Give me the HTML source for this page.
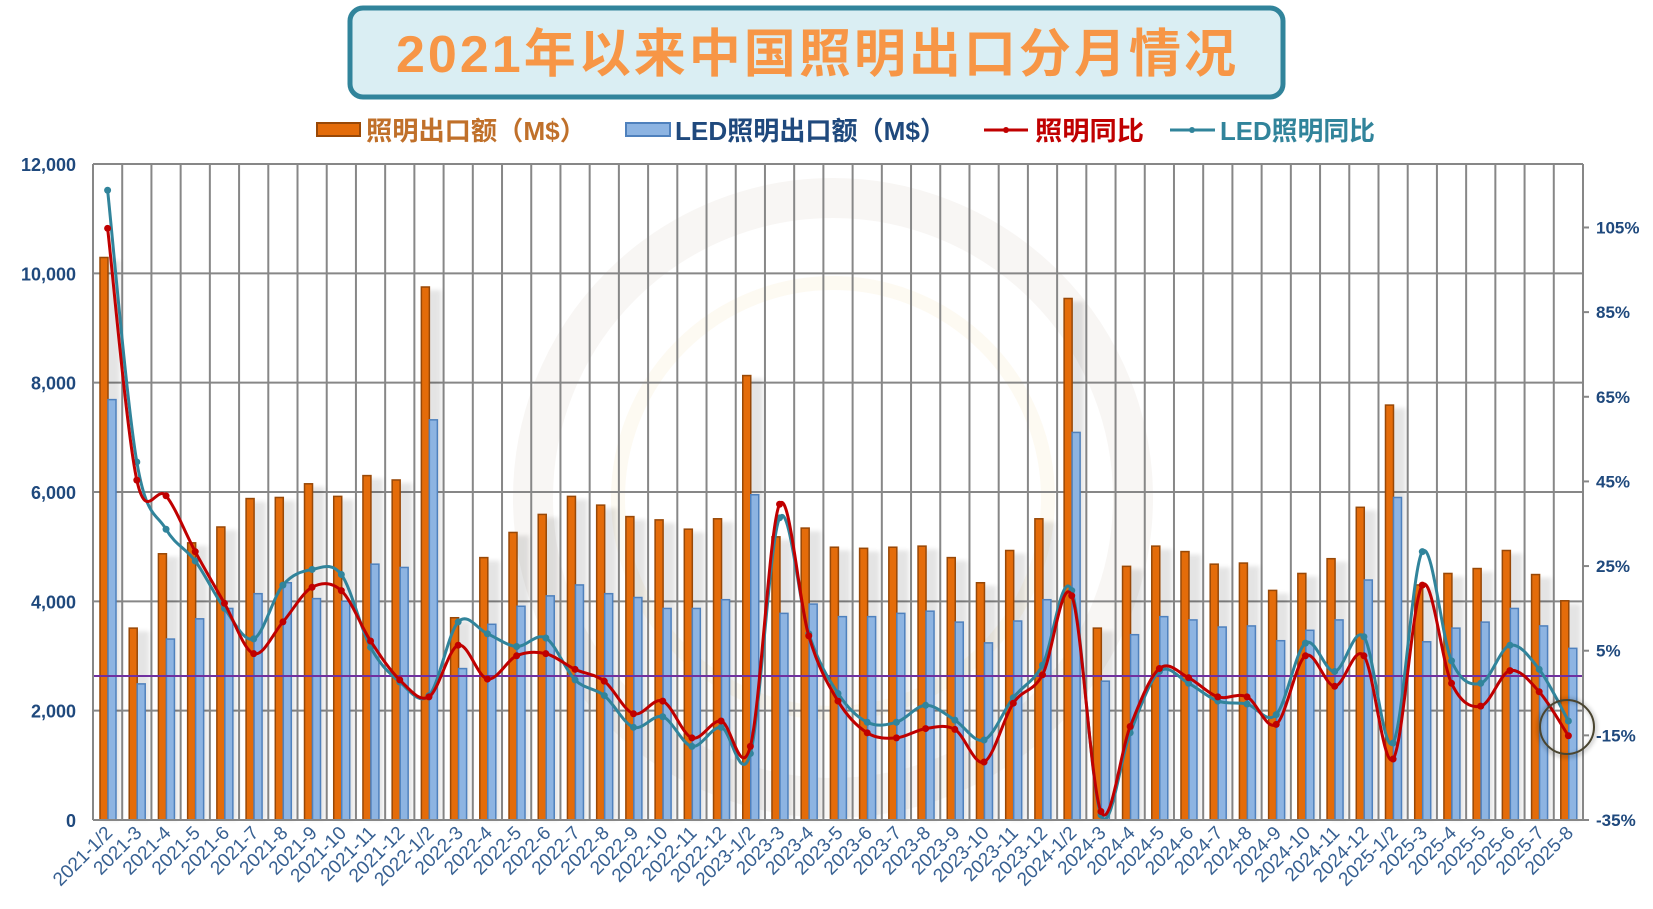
<!DOCTYPE html>
<html><head><meta charset="utf-8">
<style>
html,body{margin:0;padding:0;background:#fff;}
svg{display:block;}
text{font-family:"Liberation Sans","Noto Sans CJK SC",sans-serif;}
</style></head>
<body>
<svg id="c" width="1653" height="909" viewBox="0 0 1653 909" xmlns="http://www.w3.org/2000/svg">
<defs>
<filter id="sh" x="-50%" y="-10%" width="200%" height="120%"><feGaussianBlur stdDeviation="2"/></filter>
</defs>
<rect x="0" y="0" width="1653" height="909" fill="#fff"/>
<circle cx="833" cy="498" r="300" fill="none" stroke="#f3f0ec" stroke-width="40" opacity="0.6"/>
<circle cx="833" cy="498" r="215" fill="none" stroke="#fbf6ea" stroke-width="14" opacity="0.6"/>
<rect x="350" y="8" width="933" height="89" rx="13" ry="13" fill="#DAEEF3" stroke="#31849B" stroke-width="5"/>
<text x="816" y="72" text-anchor="middle" font-size="52" font-weight="bold" fill="#F79646" textLength="840" lengthAdjust="spacing">2021年以来中国照明出口分月情况</text>
<rect x="317" y="123" width="43" height="13" fill="#E46C0A" stroke="#984807" stroke-width="2"/>
<text x="366" y="140" font-size="26" font-weight="bold" fill="#C0702A" textLength="220" lengthAdjust="spacingAndGlyphs">照明出口额（M$）</text>
<rect x="626" y="123" width="44" height="13" fill="#8DB4E2" stroke="#4F81BD" stroke-width="2"/>
<text x="675" y="140" font-size="26" font-weight="bold" fill="#1F497D" textLength="271" lengthAdjust="spacingAndGlyphs">LED照明出口额（M$）</text>
<line x1="984" y1="130" x2="1028" y2="130" stroke="#C00000" stroke-width="3"/><circle cx="1006" cy="130" r="3" fill="#C00000"/>
<text x="1035" y="140" font-size="26" font-weight="bold" fill="#C00000" textLength="109" lengthAdjust="spacingAndGlyphs">照明同比</text>
<line x1="1170" y1="130" x2="1215" y2="130" stroke="#31849B" stroke-width="3"/><circle cx="1192" cy="130" r="3" fill="#31849B"/>
<text x="1220" y="140" font-size="26" font-weight="bold" fill="#31849B" textLength="155" lengthAdjust="spacingAndGlyphs">LED照明同比</text>
<g id="plot"></g>
</svg>
<script>
var L=93,R=1583,T=164,B=820,N=51,W=(R-L)/N;
var cats=["2021-1/2","2021-3","2021-4","2021-5","2021-6","2021-7","2021-8","2021-9","2021-10","2021-11","2021-12",
"2022-1/2","2022-3","2022-4","2022-5","2022-6","2022-7","2022-8","2022-9","2022-10","2022-11","2022-12",
"2023-1/2","2023-3","2023-4","2023-5","2023-6","2023-7","2023-8","2023-9","2023-10","2023-11","2023-12",
"2024-1/2","2024-3","2024-4","2024-5","2024-6","2024-7","2024-8","2024-9","2024-10","2024-11","2024-12",
"2025-1/2","2025-3","2025-4","2025-5","2025-6","2025-7","2025-8"];
var o=[10290,3510,4870,5070,5360,5880,5900,6150,5920,6300,6220,9750,3700,4800,5260,5590,5920,5760,5550,5490,5320,5510,8130,5180,5340,4990,4970,4990,5010,4800,4340,4930,5510,9540,3510,4640,5010,4910,4680,4700,4200,4510,4780,5720,7590,4300,4510,4600,4930,4490,4010];
var b=[7690,2490,3310,3680,3870,4140,4340,4050,4000,4680,4620,7320,2770,3580,3910,4100,4300,4140,4070,3870,3870,4030,5950,3780,3950,3720,3720,3780,3820,3620,3240,3640,4030,7090,2540,3390,3720,3660,3530,3550,3280,3470,3660,4390,5900,3260,3510,3620,3870,3550,3140];
var r=[104.8,45.3,41.6,28.4,16.2,4.3,11.8,20,19.2,7.3,-1.9,-5.9,6.3,-1.7,3.8,4.3,0.6,-2.2,-9.9,-6.9,-15.6,-11.6,-17.6,39.6,8.5,-6.9,-14.4,-15.6,-13.4,-13.6,-21.3,-7.4,-0.7,18,-33,-12.9,0.8,-1.4,-5.9,-5.9,-12.4,3.8,-3.4,3.8,-20.6,20.5,-2.7,-8.1,0.3,-4.7,-15.1];
var t=[113.8,49.6,33.7,26.2,15,7.8,20.5,24.2,23,5.8,-2.4,-5.6,11.8,9,6,8,-1.9,-5.6,-13.1,-10.6,-17.6,-13.1,-19.3,36.4,9,-5.1,-11.9,-11.9,-7.9,-11.4,-16.1,-6.1,1.6,19.2,-33.8,-14.4,0.1,-2.7,-6.9,-7.6,-10.1,6.8,0.1,8.3,-16.8,28.4,2.6,-2.7,6.3,0.6,-11.6];
function yl(v){return B-v*(B-T)/12000;}
function yr(p){return B-(p+35)*(B-T)/155;}
var s='';
for(var i=0;i<=N;i++){var x=L+i*W;s+='<line x1="'+x+'" y1="'+T+'" x2="'+x+'" y2="'+B+'" stroke="#878787" stroke-width="2"/>';}
for(var v=0;v<=12000;v+=2000){var y=yl(v);s+='<line x1="'+L+'" y1="'+y+'" x2="'+R+'" y2="'+y+'" stroke="#878787" stroke-width="2"/>';
 s+='<text x="76" y="'+(y+7)+'" text-anchor="end" font-size="18" font-weight="bold" fill="#1F497D">'+(v>=1000?Math.floor(v/1000)+','+'000':'0')+'</text>';}
for(var p=-35;p<=105;p+=20){var y=yr(p);s+='<line x1="'+R+'" y1="'+y+'" x2="'+(R+6)+'" y2="'+y+'" stroke="#878787" stroke-width="2"/>';
 s+='<text x="1596" y="'+(y+6)+'" font-size="17" font-weight="bold" fill="#1F497D">'+p+'%</text>';}
for(var i=0;i<N;i++){var x=L+i*W+7;
 s+='<rect x="'+(x+4)+'" y="'+(yl(o[i])+3)+'" width="16" height="'+(B-yl(o[i])-3)+'" fill="#000" opacity="0.1" filter="url(#sh)"/>';
 s+='<rect x="'+x+'" y="'+yl(o[i])+'" width="8" height="'+(B-yl(o[i]))+'" fill="#E46C0A" stroke="#984807" stroke-width="1.5"/>';
 s+='<rect x="'+(x+8)+'" y="'+yl(b[i])+'" width="8" height="'+(B-yl(b[i]))+'" fill="#8DB4E2" stroke="#4F81BD" stroke-width="1.5"/>';}
s+='<line x1="'+L+'" y1="676" x2="'+R+'" y2="676" stroke="#7030A0" stroke-width="2"/>';
function curve(d,col){var P=d.map(function(v,i){return [L+(i+0.5)*W,yr(v)];});
 var path='M'+P[0][0]+','+P[0][1];
 for(var i=0;i<P.length-1;i++){var p0=P[i-1]||P[i],p1=P[i],p2=P[i+1],p3=P[i+2]||P[i+1];
  var c1=[p1[0]+(p2[0]-p0[0])/6,p1[1]+(p2[1]-p0[1])/6],c2=[p2[0]-(p3[0]-p1[0])/6,p2[1]-(p3[1]-p1[1])/6];
  path+=' C'+c1[0]+','+c1[1]+' '+c2[0]+','+c2[1]+' '+p2[0]+','+p2[1];}
 var o='<path d="'+path+'" fill="none" stroke="'+col+'" stroke-width="3"/>';
 P.forEach(function(q){o+='<circle cx="'+q[0]+'" cy="'+q[1]+'" r="3.5" fill="'+col+'"/>';});return o;}
s+=curve(t,'#31849B');
s+=curve(r,'#C00000');
s+='<line x1="'+L+'" y1="'+T+'" x2="'+L+'" y2="'+B+'" stroke="#878787" stroke-width="2"/>';
s+='<line x1="'+R+'" y1="'+T+'" x2="'+R+'" y2="'+B+'" stroke="#878787" stroke-width="2"/>';
s+='<line x1="'+L+'" y1="'+B+'" x2="'+R+'" y2="'+B+'" stroke="#878787" stroke-width="2"/>';
s+='<circle cx="1567" cy="728" r="28" fill="none" stroke="#000" stroke-width="4" opacity="0.2" filter="url(#sh)"/>';
s+='<circle cx="1567" cy="727" r="27" fill="none" stroke="#4A4530" stroke-width="2"/>';
for(var i=0;i<N;i++){var x=L+(i+0.5)*W+6;
 s+='<text x="'+x+'" y="834" text-anchor="end" font-size="19" fill="#376092" transform="rotate(-45 '+x+' 834)">'+cats[i]+'</text>';}
document.getElementById('plot').innerHTML=s;
</script>
</body></html>
